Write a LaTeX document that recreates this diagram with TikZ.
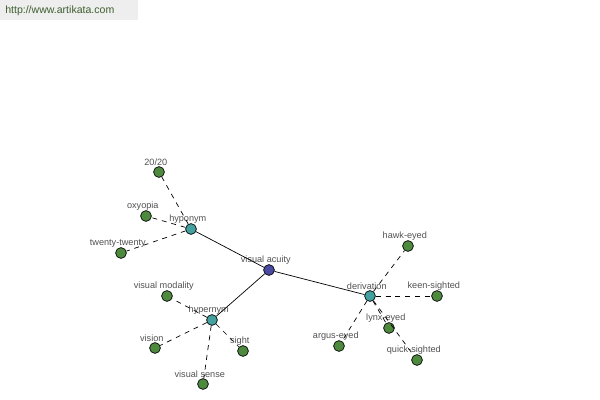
\documentclass[tikz,border=0pt]{standalone}
\usepackage{fontspec}
\setmainfont{Liberation Sans}
\usepackage{tikz}

\definecolor{rootblue}{HTML}{4A4AA0}
\definecolor{reltea}{HTML}{45A0A0}
\definecolor{leafgreen}{HTML}{4E8A3E}
\definecolor{labelgray}{HTML}{505050}
\definecolor{urlgreen}{HTML}{3E5E2E}
\definecolor{urlback}{HTML}{EEEEEE}

\tikzset{
  dot/.style={circle, draw=black, line width=0.5pt, minimum size=0.27cm, inner sep=0pt,
    label={[text=labelgray, font=\fontsize{6.5}{7}\selectfont, inner sep=1pt, yshift=-1pt, xshift=-0.08cm]above:#1}},
  root/.style={dot=#1, fill=rootblue},
  relation/.style={dot=#1, fill=reltea},
  leaf/.style={dot=#1, fill=leafgreen},
  link/.style={line width=0.5pt},
  sublink/.style={line width=0.5pt, dash pattern=on 3.5pt off 3.5pt}
}

\begin{document}
\begin{tikzpicture}[x=0.025cm, y=-0.025cm]

\useasboundingbox (0,0) rectangle (600,400);

% site banner
\fill[urlback] (0,0) rectangle (138,20);
\node[text=urlgreen, font=\fontsize{7.5}{8}\selectfont, anchor=west, inner sep=0pt] (url) at (5,11) {http://www.artikata.com};

% centre and relations
\node[root=visual acuity] (acuity) at (269,270) {};
\node[relation=hyponym] (hypo) at (191,229) {};
\node[relation=hypernym] (hyper) at (212,320) {};
\node[relation=derivation] (deriv) at (370,296) {};

% hyponyms
\node[leaf=20/20] (twenty) at (159,172) {};
\node[leaf=oxyopia] (oxy) at (146,216) {};
\node[leaf=twenty-twenty] (tt) at (121,253) {};

% hypernyms
\node[leaf=visual modality] (modality) at (167,296) {};
\node[leaf=vision] (vision) at (155,348) {};
\node[leaf=sight] (sight) at (243,351) {};
\node[leaf=visual sense] (sense) at (203,384) {};

% derivations
\node[leaf=hawk-eyed] (hawk) at (408,246) {};
\node[leaf=keen-sighted] (keen) at (437,296) {};
\node[leaf=lynx-eyed] (lynx) at (389,328) {};
\node[leaf=argus-eyed] (argus) at (339,346) {};
\node[leaf=quick-sighted] (quick) at (417,360) {};

% links
\draw[link] (acuity) -- (hypo);
\draw[link] (acuity) -- (hyper);
\draw[link] (acuity) -- (deriv);

\draw[sublink] (hypo) -- (twenty);
\draw[sublink] (hypo) -- (oxy);
\draw[sublink] (hypo) -- (tt);

\draw[sublink] (hyper) -- (modality);
\draw[sublink] (hyper) -- (vision);
\draw[sublink] (hyper) -- (sight);
\draw[sublink] (hyper) -- (sense);

\draw[sublink] (deriv) -- (hawk);
\draw[sublink] (deriv) -- (keen);
\draw[sublink] (deriv) -- (lynx);
\draw[sublink] (deriv) -- (argus);
\draw[sublink] (deriv) -- (quick);

\end{tikzpicture}
\end{document}
